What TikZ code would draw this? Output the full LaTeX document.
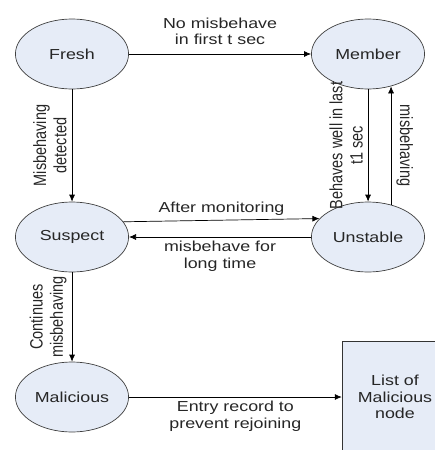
\documentclass[tikz,border=0pt]{standalone}
\usepackage{fontspec}
\setmainfont{Liberation Sans}
\usetikzlibrary{shapes.geometric,arrows.meta}
\definecolor{phasefill}{RGB}{230,236,247}
\tikzstyle{phase}=[ellipse,draw=black!75,fill=phasefill,line width=0.7pt,minimum width=92pt,minimum height=70pt,inner sep=0pt]
\tikzstyle{listbox}=[rectangle,draw=black!80,fill=phasefill,line width=0.7pt,minimum width=86pt,minimum height=112pt,align=center]
\tikzstyle{cond}=[align=center,inner sep=4pt]

\begin{document}
\begin{tikzpicture}[x=0.813pt, y=-1pt, xscale=1.23, every node/.append style={transform shape},
  font=\fontsize{14.5}{16.5}\selectfont, text=black!85, >={Latex[length=7pt,width=6pt]}, line width=0.7pt]
\useasboundingbox (0,0) rectangle (435,450);
\clip (0,0) rectangle (435,450);

\node[phase] (fresh)     at (72, 54)   {Fresh};
\node[phase] (member)    at (368, 54)  {Member};
\node[phase] (suspect)   at (72, 237)  {Suspect};
\node[phase] (unstable)  at (368, 237) {Unstable};
\node[phase] (malicious) at (72, 397)  {Malicious};
\node[listbox] (list)    at (395, 397) {List of\\Malicious\\node};

\draw[->] (fresh) -- (member)
  node[cond, midway, above=5pt] {No misbehave\\in first t sec};
\draw[->] (fresh.south) -- (suspect.north)
  node[cond, midway, rotate=90, anchor=south] {Misbehaving\\detected};
\draw[->] (member.south) -- (unstable.north)
  node[cond, midway, rotate=90, anchor=south] {Behaves well in last\\t1 sec};
\draw[->] (unstable.60) -- (member.-60)
  node[cond, midway, rotate=-90, anchor=south] {misbehaving};
\draw[->] (suspect.20) -- (unstable.155)
  node[cond, midway, above] {After monitoring};
\draw[->] (unstable.west) -- (suspect.east)
  node[cond, midway, below] {misbehave for\\long time};
\draw[->] (suspect.south) -- (malicious.north)
  node[cond, midway, rotate=90, anchor=south] {Continues\\misbehaving};
\draw[->] (malicious.east) -- (list.west)
  node[cond, midway, below] {Entry record to\\prevent rejoining};

\end{tikzpicture}
\end{document}
